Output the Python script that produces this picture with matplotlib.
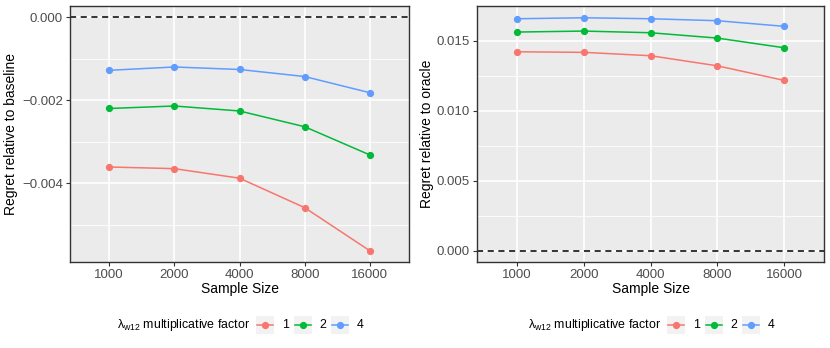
import matplotlib
matplotlib.use("Agg")
import matplotlib.pyplot as plt
from matplotlib.lines import Line2D
from matplotlib.patches import Rectangle

plt.rcParams["font.family"] = ["Liberation Sans", "DejaVu Sans"]
plt.rcParams["mathtext.fontset"] = "custom"
plt.rcParams["mathtext.rm"] = "Liberation Sans"
plt.rcParams["mathtext.it"] = "Liberation Sans"

sample_sizes = ["1000", "2000", "4000", "8000", "16000"]
factors = ["1", "2", "4"]
colors = ["#F8766D", "#00BA38", "#619CFF"]

# regret relative to baseline (left panel)
baseline_f1 = [-0.00361, -0.00365, -0.00388, -0.00459, -0.00563]
baseline_f2 = [-0.00220, -0.00214, -0.00226, -0.00264, -0.00332]
baseline_f4 = [-0.00128, -0.00120, -0.00126, -0.00143, -0.00182]

# regret relative to oracle (right panel)
oracle_f1 = [0.01421, 0.01417, 0.01393, 0.01321, 0.01217]
oracle_f2 = [0.01562, 0.01569, 0.01557, 0.01519, 0.01450]
oracle_f4 = [0.01657, 0.01664, 0.01657, 0.01643, 0.01603]

W, H = 830, 348
fig = plt.figure(figsize=(W / 100, H / 100), dpi=100)


def px_axes(x0, y0, x1, y1):
    return fig.add_axes([x0 / W, 1 - y1 / H, (x1 - x0) / W, (y1 - y0) / H])


def fmt(v):
    return f"{v:.3f}".replace("-", "\u2212")


def style_axes(ax, major, minor, ylim, ylabel, label_x):
    ax.set_facecolor("#EBEBEB")
    ax.set_xlim(-0.6, len(sample_sizes) - 0.4)
    ax.set_ylim(*ylim)
    for v in minor:
        ax.axhline(v, color="white", lw=0.6, zorder=0)
    for v in major:
        ax.axhline(v, color="white", lw=1.2, zorder=0)
    for i in range(len(sample_sizes)):
        ax.axvline(i, color="white", lw=1.2, zorder=0)
    ax.set_xticks(range(len(sample_sizes)))
    ax.set_xticklabels(sample_sizes)
    ax.set_yticks(major)
    ax.set_yticklabels([fmt(v) for v in major])
    ax.tick_params(axis="both", colors="#333333", labelcolor="#4D4D4D",
                   labelsize=9.5, length=3, width=0.8, pad=2)
    for s in ax.spines.values():
        s.set_color("#333333")
        s.set_linewidth(1.0)
    ax.set_xlabel("Sample Size", fontsize=10, labelpad=1)
    ax.set_ylabel(ylabel, fontsize=10)
    ax.yaxis.set_label_coords(label_x, 0.5)
    ax.axhline(0, color="black", lw=1.1, ls=(0, (4, 3)), zorder=1)


def draw_series(ax, series):
    x = range(len(sample_sizes))
    for ys, c in zip(series, colors):
        ax.plot(x, ys, color=c, lw=1.1, marker="o", markersize=4.2, zorder=3)


def draw_legend(x_title, x_key0, y_mid):
    fig.text(x_title / W, 1 - y_mid / H, "$\\mathrm{\u03bb_{w12}}$ multiplicative factor",
             fontsize=8.9, va="center", ha="left")
    for i, (lab, c) in enumerate(zip(factors, colors)):
        kx = x_key0 + i * 37.5
        fig.patches.append(Rectangle((kx / W, 1 - (y_mid + 9) / H), 18 / W, 18 / H,
                                     transform=fig.transFigure, facecolor="#F2F2F2",
                                     edgecolor="none"))
        fig.lines.append(Line2D([(kx + 1) / W, (kx + 17) / W], [1 - y_mid / H] * 2,
                                transform=fig.transFigure, color=c, lw=1.1))
        fig.lines.append(Line2D([(kx + 9) / W], [1 - y_mid / H], transform=fig.transFigure,
                                color=c, marker="o", markersize=4.2))
        fig.text((kx + 26) / W, 1 - y_mid / H, lab, fontsize=8.9, va="center", ha="left")


ax1 = px_axes(70, 6, 409, 262)
draw_series(ax1, [baseline_f1, baseline_f2, baseline_f4])
style_axes(ax1, [0.0, -0.002, -0.004], [-0.001, -0.003, -0.005],
           (-0.0059, 0.00027), "Regret relative to baseline", -0.153)

ax2 = px_axes(477, 6, 824, 262)
draw_series(ax2, [oracle_f1, oracle_f2, oracle_f4])
style_axes(ax2, [0.0, 0.005, 0.010, 0.015], [0.0025, 0.0075, 0.0125],
           (-0.0008, 0.01748), "Regret relative to oracle", -0.125)

draw_legend(117, 256, 325)
draw_legend(528, 667, 325)

fig.savefig("out.png", dpi=100)
